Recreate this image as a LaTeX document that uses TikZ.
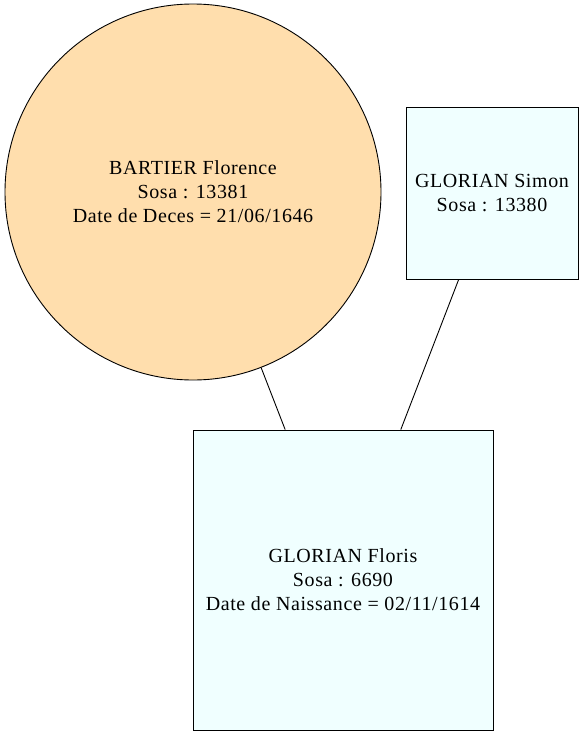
\documentclass[tikz,border=0pt]{standalone}
\usepackage{fontspec}
\setmainfont{Liberation Serif}[LetterSpace=3]
\definecolor{navajo}{HTML}{FFDEAD}
\definecolor{azurebox}{HTML}{F0FFFF}

\begin{document}
\begin{tikzpicture}[x=1pt, y=-1pt, line width=0.9pt,
  person/.style={draw, align=center, inner sep=0pt, font=\fontsize{20}{24}\selectfont},
  woman node/.style={person, circle, fill=navajo, minimum size=376pt},
  man node/.style={person, rectangle, fill=azurebox}]
\useasboundingbox (0,0) rectangle (584,736);
\node[woman node] (florence) at (193,192) {BARTIER Florence\\Sosa : 13381\\Date de Deces = 21/06/1646};
\node[man node, minimum size=172pt] (simon) at (492,193) {GLORIAN Simon\\Sosa : 13380};
\node[man node, minimum size=300pt] (floris) at (343,580) {GLORIAN Floris\\Sosa : 6690\\Date de Naissance = 02/11/1614};

\draw (florence) -- (floris);
\draw (simon) -- (floris);

\end{tikzpicture}
\end{document}
